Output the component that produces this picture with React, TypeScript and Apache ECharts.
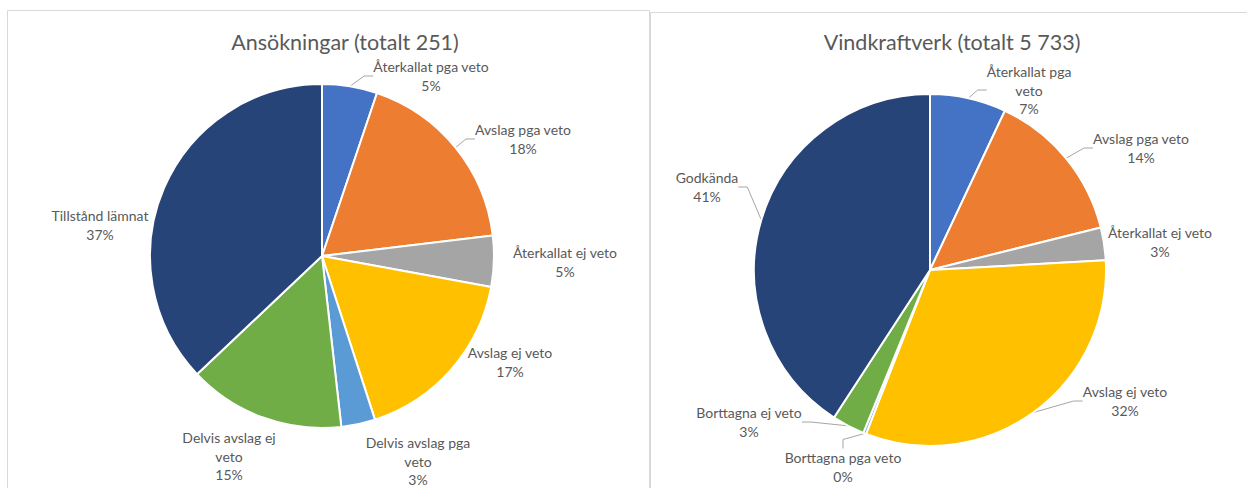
import React, { useEffect, useRef } from "react";
import * as echarts from "echarts";

const leftTitle = "Ansökningar (totalt 251)";
const rightTitle = "Vindkraftverk (totalt 5 733)";

const leftCategories = [
  "Återkallat pga veto",
  "Avslag pga veto",
  "Återkallat ej veto",
  "Avslag ej veto",
  "Delvis avslag pga veto",
  "Delvis avslag ej veto",
  "Tillstånd lämnat",
];
const leftValues = [13, 45, 12, 43, 8, 37, 93];

const rightCategories = [
  "Återkallat pga veto",
  "Avslag pga veto",
  "Återkallat ej veto",
  "Avslag ej veto",
  "Borttagna pga veto",
  "Borttagna ej veto",
  "Godkända",
];
const rightValues = [401, 810, 172, 1823, 15, 172, 2340];

const sliceColors = ["#4472C4", "#ED7D31", "#A5A5A5", "#FFC000", "#5B9BD5", "#70AD47", "#264478"];

// label text wrapping (as in the reference)
const wrapped: Record<string, string> = {
  "Delvis avslag pga veto": "Delvis avslag pga\nveto",
  "Delvis avslag ej veto": "Delvis avslag ej\nveto",
};
const wrappedRight: Record<string, string> = {
  "Återkallat pga veto": "Återkallat pga\nveto",
};

// label placement relative to pie centre (layout, not data)
const leftLabelOffsets = [[109, -180], [201, -117], [243, 6], [188, 106], [96, 205], [-93, 200], [-222, -31]];
const rightLabelOffsets = [[99, -180], [211, -122], [230, -28], [195, 131], [-87, 197], [-181, 152], [-223, -83]];
const leftLeaders = [true, true, false, false, false, false, false];
const rightLeaders = [true, true, false, true, true, true, true];

const LEFT_C = [322, 256];
const LEFT_R = 172;
const RIGHT_C = [930, 270];
const RIGHT_R = 176;

const FONT = "Lato, 'Open Sans', sans-serif";
const TEXT = "#595959";

function makeSeries(
  cats: string[],
  vals: number[],
  center: number[],
  r: number,
  offsets: number[][],
  leaders: boolean[],
  wrap: Record<string, string>
) {
  return {
    type: "pie",
    center: center,
    radius: r,
    startAngle: 90,
    clockwise: true,
    avoidLabelOverlap: false,
    itemStyle: { borderColor: "#ffffff", borderWidth: 2 },
    label: {
      show: true,
      position: "outside",
      color: TEXT,
      fontFamily: FONT,
      fontSize: 14,
      lineHeight: 18.5,
      formatter: (p: any) => `${wrap[p.name] || p.name}\n${Math.round(p.percent)}%`,
    },
    labelLine: {
      show: true,
      length: 10,
      length2: 9,
      lineStyle: { color: "#A6A6A6", width: 1 },
    },
    labelLayout: (p: any) => {
      const o = offsets[p.dataIndex];
      return {
        x: center[0] + o[0],
        y: center[1] + o[1],
        align: "center",
        verticalAlign: "middle",
      };
    },
    emphasis: { disabled: true },
    data: cats.map((name, i) => ({
      name,
      value: vals[i],
      itemStyle: { color: sliceColors[i] },
      labelLine: { show: leaders[i] },
    })),
  };
}

export default function App() {
  const ref = useRef<HTMLDivElement>(null);
  useEffect(() => {
    if (!ref.current) return;
    const chart = echarts.init(ref.current, undefined, { renderer: "svg" });
    chart.setOption({
      animation: false,
      backgroundColor: "#ffffff",
      graphic: [
        {
          type: "rect",
          shape: { x: 7.5, y: 10.5, width: 642, height: 495 },
          style: { fill: "none", stroke: "#D9D9D9", lineWidth: 1 },
          z: -1,
        },
        {
          type: "rect",
          shape: { x: 650.5, y: 12.5, width: 620, height: 495 },
          style: { fill: "none", stroke: "#D9D9D9", lineWidth: 1 },
          z: -1,
        },
        {
          type: "text",
          x: 345,
          y: 42,
          style: {
            text: leftTitle,
            fill: TEXT,
            font: `21.5px ${FONT}`,
            textAlign: "center",
            textVerticalAlign: "middle",
          },
        },
        {
          type: "text",
          x: 952,
          y: 42,
          style: {
            text: rightTitle,
            fill: TEXT,
            font: `21.5px ${FONT}`,
            textAlign: "center",
            textVerticalAlign: "middle",
          },
        },
      ],
      series: [
        makeSeries(leftCategories, leftValues, LEFT_C, LEFT_R, leftLabelOffsets, leftLeaders, wrapped),
        makeSeries(rightCategories, rightValues, RIGHT_C, RIGHT_R, rightLabelOffsets, rightLeaders, wrappedRight),
      ],
    });
    return () => chart.dispose();
  }, []);
  return (
    <div
      ref={ref}
      style={{ position: "absolute", left: 0, top: 0, width: 1247, height: 488, background: "#fff" }}
    />
  );
}
